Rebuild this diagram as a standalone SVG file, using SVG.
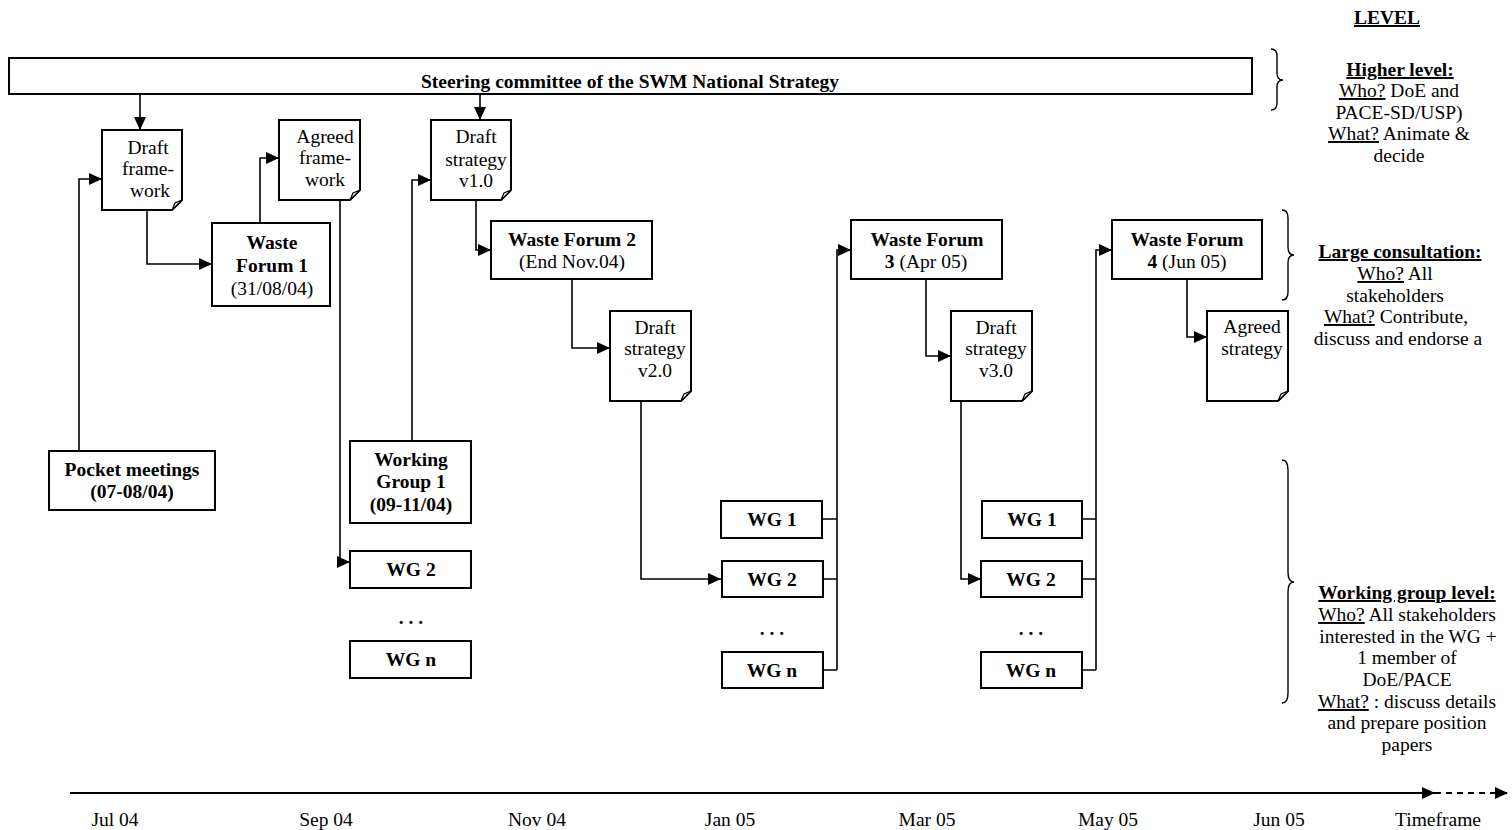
<svg xmlns="http://www.w3.org/2000/svg" width="1512" height="830" viewBox="0 0 1512 830">
<defs>
<marker id="ah" markerUnits="userSpaceOnUse" markerWidth="13" markerHeight="12" refX="13" refY="6" orient="auto">
<path d="M0,0 L13,6 L0,12 Z" fill="#000"/>
</marker>
</defs>
<style>
text{font-family:"Liberation Serif","Times New Roman",serif;font-size:19.5px;fill:#000;text-anchor:middle}
.b{font-weight:bold}
.u{text-decoration:underline}
.box{fill:#fff;stroke:#000;stroke-width:2}
.fold{fill:#fff;stroke:#000;stroke-width:1.2}
.con{fill:none;stroke:#000;stroke-width:1.6}
.brace{fill:none;stroke:#000;stroke-width:1.4}
</style>
<rect width="1512" height="830" fill="#fff"/>

<g id="connectors">
<path class="con" d="M140,94 V130" marker-end="url(#ah)"/>
<path class="con" d="M480,94 V120" marker-end="url(#ah)"/>
<path class="con" d="M79,451 V179 H102" marker-end="url(#ah)"/>
<path class="con" d="M147,210 V264 H212" marker-end="url(#ah)"/>
<path class="con" d="M260,223 V158 H279" marker-end="url(#ah)"/>
<path class="con" d="M340,200 V562 H350" marker-end="url(#ah)"/>
<path class="con" d="M412,441 V180 H431" marker-end="url(#ah)"/>
<path class="con" d="M476,200 V250 H491" marker-end="url(#ah)"/>
<path class="con" d="M572,279 V348 H610" marker-end="url(#ah)"/>
<path class="con" d="M641,401 V579 H721" marker-end="url(#ah)"/>
<path class="con" d="M822,519 H837 M823,579 H837 M823,670 H837"/>
<path class="con" d="M837,670 V250 H851" marker-end="url(#ah)"/>
<path class="con" d="M926,279 V356 H951" marker-end="url(#ah)"/>
<path class="con" d="M961,401 V579 H981" marker-end="url(#ah)"/>
<path class="con" d="M1082,519 H1096 M1082,579 H1096 M1082,670 H1096"/>
<path class="con" d="M1096,670 V250 H1112" marker-end="url(#ah)"/>
<path class="con" d="M1187,279 V337 H1207" marker-end="url(#ah)"/>
</g>

<g id="steering">
<rect class="box" x="9" y="58" width="1243" height="36"/>
<text class="b" x="630" y="88">Steering committee of the SWM National Strategy</text>
</g>

<g id="draft-framework">
<path class="box" d="M102,130 H182 V200 L172,210 H102 Z"/>
<path class="fold" d="M172,210 L175,203 L182,200 Z"/>
<text x="148" y="154">Draft</text>
<text x="148" y="175">frame-</text>
<text x="150" y="197">work</text>
</g>

<g id="agreed-framework">
<path class="box" d="M279,120 H360 V190 L350,200 H279 Z"/>
<path class="fold" d="M350,200 L353,193 L360,190 Z"/>
<text x="325" y="143">Agreed</text>
<text x="325" y="164">frame-</text>
<text x="325" y="186">work</text>
</g>

<g id="draft-strategy-v1">
<path class="box" d="M431,120 H511 V190 L501,200 H431 Z"/>
<path class="fold" d="M501,200 L504,193 L511,190 Z"/>
<text x="476" y="143">Draft</text>
<text x="476" y="166">strategy</text>
<text x="476" y="187">v1.0</text>
</g>

<g id="draft-strategy-v2">
<path class="box" d="M610,311 H691 V391 L681,401 H610 Z"/>
<path class="fold" d="M681,401 L684,394 L691,391 Z"/>
<text x="655" y="334">Draft</text>
<text x="655" y="355">strategy</text>
<text x="655" y="377">v2.0</text>
</g>

<g id="draft-strategy-v3">
<path class="box" d="M951,311 H1032 V391 L1022,401 H951 Z"/>
<path class="fold" d="M1022,401 L1025,394 L1032,391 Z"/>
<text x="996" y="334">Draft</text>
<text x="996" y="355">strategy</text>
<text x="996" y="377">v3.0</text>
</g>

<g id="agreed-strategy">
<path class="box" d="M1207,311 H1288 V391 L1278,401 H1207 Z"/>
<path class="fold" d="M1278,401 L1281,394 L1288,391 Z"/>
<text x="1252" y="333">Agreed</text>
<text x="1252" y="355">strategy</text>
</g>

<g id="waste-forum-1">
<rect class="box" x="212" y="223" width="118" height="83"/>
<text class="b" x="272" y="249">Waste</text>
<text class="b" x="272" y="272">Forum 1</text>
<text x="272" y="295">(31/08/04)</text>
</g>

<g id="waste-forum-2">
<rect class="box" x="491" y="221" width="161" height="58"/>
<text class="b" x="572" y="246">Waste Forum 2</text>
<text x="572" y="268">(End Nov.04)</text>
</g>

<g id="waste-forum-3">
<rect class="box" x="851" y="220" width="151" height="59"/>
<text class="b" x="927" y="246">Waste Forum</text>
<text x="926" y="268"><tspan class="b">3</tspan> (Apr 05)</text>
</g>

<g id="waste-forum-4">
<rect class="box" x="1112" y="220" width="150" height="59"/>
<text class="b" x="1187" y="246">Waste Forum</text>
<text x="1187" y="268"><tspan class="b">4</tspan> (Jun 05)</text>
</g>

<g id="pocket-meetings">
<rect class="box" x="49" y="451" width="166" height="59"/>
<text class="b" x="132" y="476">Pocket meetings</text>
<text class="b" x="132" y="498">(07-08/04)</text>
</g>

<g id="working-group-1">
<rect class="box" x="350" y="441" width="121" height="82"/>
<text class="b" x="411" y="466">Working</text>
<text class="b" x="411" y="488">Group 1</text>
<text class="b" x="411" y="511">(09-11/04)</text>
</g>

<g id="col1-wg2">
<rect class="box" x="350" y="551" width="121" height="37"/>
<text class="b" x="411" y="576">WG 2</text>
</g>
<g id="col1-dots"><text class="b" x="411" y="624">. . .</text></g>
<g id="col1-wgn">
<rect class="box" x="350" y="641" width="121" height="37"/>
<text class="b" x="411" y="666">WG n</text>
</g>

<g id="col2-wg1">
<rect class="box" x="721" y="501" width="101" height="37"/>
<text class="b" x="772" y="526">WG 1</text>
</g>
<g id="col2-wg2">
<rect class="box" x="722" y="561" width="101" height="36"/>
<text class="b" x="772" y="586">WG 2</text>
</g>
<g id="col2-dots"><text class="b" x="772" y="635">. . .</text></g>
<g id="col2-wgn">
<rect class="box" x="722" y="652" width="101" height="36"/>
<text class="b" x="772" y="677">WG n</text>
</g>

<g id="col3-wg1">
<rect class="box" x="982" y="501" width="100" height="37"/>
<text class="b" x="1032" y="526">WG 1</text>
</g>
<g id="col3-wg2">
<rect class="box" x="981" y="561" width="101" height="36"/>
<text class="b" x="1031" y="586">WG 2</text>
</g>
<g id="col3-dots"><text class="b" x="1031" y="635">. . .</text></g>
<g id="col3-wgn">
<rect class="box" x="981" y="652" width="101" height="36"/>
<text class="b" x="1031" y="677">WG n</text>
</g>

<g id="braces">
<path class="brace" d="M1271,49 Q1277,49 1277,56 V73 Q1277,80 1283,80 Q1277,80 1277,87 V103 Q1277,110 1271,110"/>
<path class="brace" d="M1282,210 Q1288,210 1288,218 V247 Q1288,255 1294,255 Q1288,255 1288,263 V292 Q1288,300 1282,300"/>
<path class="brace" d="M1282,460 Q1288,460 1288,470 V572 Q1288,582 1294,582 Q1288,582 1288,592 V693 Q1288,703 1282,703"/>
</g>

<g id="levels">
<text class="b u" x="1387" y="24">LEVEL</text>
<text class="b u" x="1400" y="76">Higher level:</text>
<text x="1399" y="97"><tspan class="u">Who?</tspan> DoE and</text>
<text x="1399" y="119">PACE-SD/USP)</text>
<text x="1399" y="140"><tspan class="u">What?</tspan> Animate &amp;</text>
<text x="1399" y="162">decide</text>

<text class="b u" x="1400" y="258">Large consultation:</text>
<text x="1395" y="280"><tspan class="u">Who?</tspan> All</text>
<text x="1395" y="302">stakeholders</text>
<text x="1396" y="323"><tspan class="u">What?</tspan> Contribute,</text>
<text x="1398" y="345">discuss and endorse a</text>

<text class="b u" x="1407" y="599">Working group level:</text>
<text x="1407" y="621"><tspan class="u"> Who?</tspan> All stakeholders</text>
<text x="1408" y="643">interested in the WG +</text>
<text x="1407" y="664">1 member of</text>
<text x="1407" y="686">DoE/PACE</text>
<text x="1407" y="708"><tspan class="u">What?</tspan> : discuss details</text>
<text x="1407" y="729">and prepare position</text>
<text x="1407" y="751">papers</text>
</g>

<g id="timeline">
<path d="M70,793 H1435" stroke="#000" stroke-width="2" fill="none" marker-end="url(#ah)"/>
<path d="M1435,793 H1508" stroke="#000" stroke-width="2" stroke-dasharray="6,5" fill="none" marker-end="url(#ah)"/>
<text x="115" y="826">Jul 04</text>
<text x="326" y="826">Sep 04</text>
<text x="537" y="826">Nov 04</text>
<text x="730" y="826">Jan 05</text>
<text x="927" y="826">Mar 05</text>
<text x="1108" y="826">May 05</text>
<text x="1279" y="826">Jun 05</text>
<text x="1438" y="826">Timeframe</text>
</g>
</svg>
